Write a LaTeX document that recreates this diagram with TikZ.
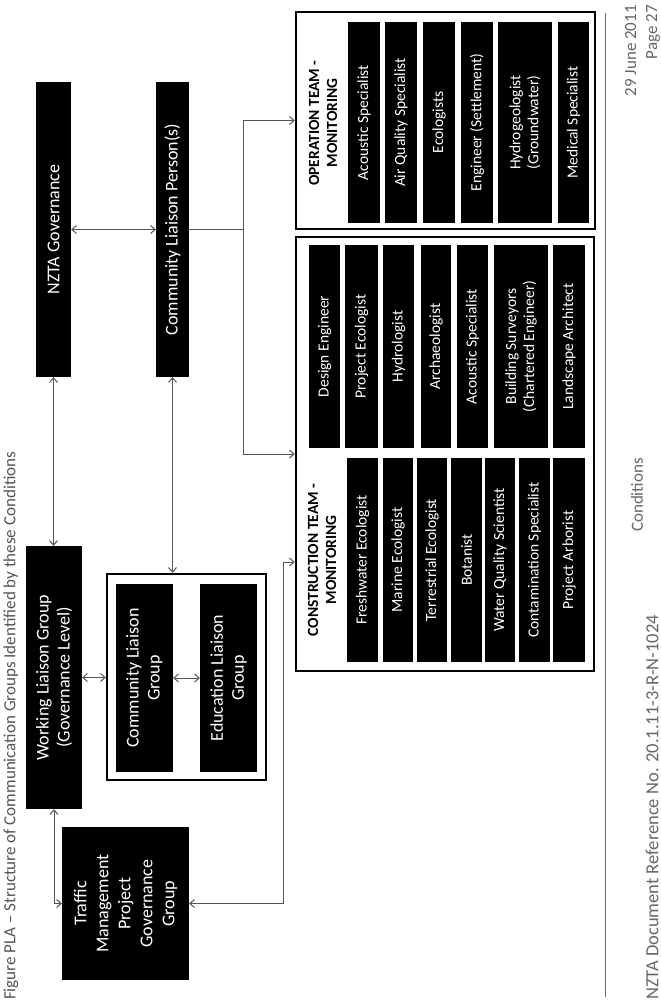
\documentclass[tikz,border=0pt]{standalone}
\usepackage{fontspec}
\setmainfont{Carlito}
\usetikzlibrary{arrows.meta}
\definecolor{linkgray}{HTML}{555555}
\definecolor{footgray}{HTML}{666666}
\definecolor{capgray}{HTML}{555555}

\tikzset{
  mainbox/.style={fill=black,text=white,rotate=90,align=center,inner sep=0pt,
    font=\fontsize{18}{21}\selectfont},
  rolebox/.style={fill=black,text=white,rotate=90,align=center,inner sep=0pt,
    font=\fontsize{15.5}{18}\selectfont},
  sz/.style 2 args={minimum width=#1,minimum height=#2},
  teamframe/.style={draw,line width=2.5pt,inner sep=0pt},
  teamtitle/.style={rotate=90,align=center,inner sep=0pt,
    font=\bfseries\fontsize{15.5}{18}\selectfont},
  link/.style={draw=linkgray,line width=1pt},
  foot/.style={rotate=90,inner sep=0pt,text=footgray,font=\fontsize{17}{21}\selectfont},
}

\begin{document}
\begin{tikzpicture}[x=1pt,y=-1pt,>={Straight Barb[length=4.5pt,width=8pt]}]
  \useasboundingbox[fill=white] (0,0) rectangle (661,1005);
  % governance and liaison groups
  \node[mainbox,sz={295}{35}] (nzta) at (53.5,229.5) {NZTA Governance};
  \node[mainbox,sz={295}{33}] (clp) at (172.5,229.5) {Community Liaison Person(s)};
  \node[mainbox,sz={263}{56}] (wlg) at (54,677.5) {Working Liaison Group\\(Governance Level)};
  \node[teamframe,minimum width=159,minimum height=206] (grpbox) at (186.5,677) {};
  \node[mainbox,sz={188}{57}] (clg) at (144.5,678) {Community Liaison\\Group};
  \node[mainbox,sz={188}{57}] (elg) at (228.5,678) {Education Liaison\\Group};
  \node[mainbox,sz={153}{127},font=\fontsize{18}{22}\selectfont] (tmpgg) at (125.5,903.5)
    {Traffic\\Management\\Project\\Governance\\Group};
  % team frames
  \node[teamframe,minimum width=299,minimum height=217] (opbox) at (445.5,120.5) {};
  \node[teamframe,minimum width=298,minimum height=434] (conbox) at (445,454) {};
  \node[teamtitle] (optitle) at (323,123) {OPERATION TEAM -\\MONITORING};
  \node[teamtitle] (contitle) at (322,560) {CONSTRUCTION TEAM -\\MONITORING};
  % operation team
  \node[rolebox,sz={201}{32}] (op1) at (364,122.5) {Acoustic Specialist};
  \node[rolebox,sz={201}{32}] (op2) at (401,122.5) {Air Quality Specialist};
  \node[rolebox,sz={201}{32}] (op3) at (439,122.5) {Ecologists};
  \node[rolebox,sz={201}{32}] (op4) at (477,122.5) {Engineer (Settlement)};
  \node[rolebox,sz={201}{54}] (op5) at (525,122.5) {Hydrogeologist\\(Groundwater)};
  \node[rolebox,sz={201}{31}] (op6) at (573.5,122.5) {Medical Specialist};
  % construction team, right column
  \node[rolebox,sz={203}{31}] (cr1) at (324.5,346.5) {Design Engineer};
  \node[rolebox,sz={203}{33}] (cr2) at (361.5,346.5) {Project Ecologist};
  \node[rolebox,sz={203}{31}] (cr3) at (398.5,346.5) {Hydrologist};
  \node[rolebox,sz={203}{30}] (cr4) at (436,346.5) {Archaeologist};
  \node[rolebox,sz={203}{31}] (cr5) at (472.5,346.5) {Acoustic Specialist};
  \node[rolebox,sz={203}{54}] (cr6) at (521,346.5) {Building Surveyors\\(Chartered Engineer)};
  \node[rolebox,sz={203}{32}] (cr7) at (569,346.5) {Landscape Architect};
  % construction team, left column
  \node[rolebox,sz={204}{31}] (cl1) at (362.5,560) {Freshwater Ecologist};
  \node[rolebox,sz={204}{30}] (cl2) at (398,560) {Marine Ecologist};
  \node[rolebox,sz={204}{30}] (cl3) at (432,560) {Terrestrial Ecologist};
  \node[rolebox,sz={204}{31}] (cl4) at (466.5,560) {Botanist};
  \node[rolebox,sz={204}{30}] (cl5) at (500,560) {Water Quality Scientist};
  \node[rolebox,sz={204}{31}] (cl6) at (534.5,560) {Contamination Specialist};
  \node[rolebox,sz={204}{32}] (cl7) at (569,560) {Project Arborist};
  % connectors
  \draw[link,<->] (nzta.south) -- (clp.north);
  \draw[link,<->] (nzta.west) -- (nzta.west |- wlg.east);
  \draw[link,<->] (clp.west) -- (clp.west |- grpbox.north);
  \draw[link,<->] (wlg.south) -- (wlg.south -| grpbox.west);
  \draw[link,<->] (clg.south) -- (elg.north);
  \draw[link,<->] (wlg.west) |- (tmpgg.north);
  \coordinate (split) at (243,229.5);
  \draw[link] (clp.south) -- (split);
  \draw[link,->] (split) |- (opbox.west);
  \draw[link,->] (split) |- (conbox.west);
  \coordinate (bend) at (283,562);
  \draw[link,<->] (tmpgg.south) -| (bend) -- (bend -| conbox.west);
  % caption and footer
  \node[foot,anchor=west,text=capgray,font=\fontsize{17}{19}\selectfont] (caption) at (11,1000)
    {Figure PLA – Structure of Communication Groups Identified by these Conditions};
  \coordinate (ruletop) at (605,13);
  \coordinate (rulebot) at (605,997);
  \draw[footgray,line width=1pt] (ruletop) -- (rulebot);
  \node[foot,anchor=east,align=right] (date) at (642.5,5) {29 June 2011\\Page 27};
  \node[foot] (condlbl) at (637,495) {Conditions};
  \node[foot,anchor=west,font=\fontsize{18.5}{21}\selectfont] (docref) at (652,1000)
    {NZTA Document Reference No. 20.1.11-3-R-N-1024};
\end{tikzpicture}
\end{document}
